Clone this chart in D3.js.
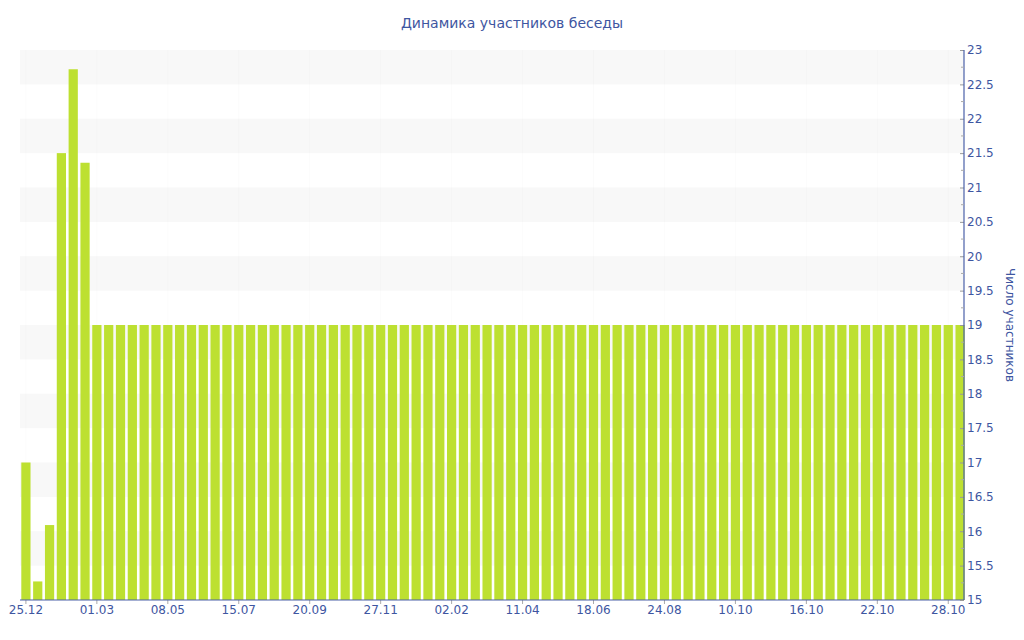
<!DOCTYPE html>
<html><head><meta charset="utf-8">
<script src="https://cdn.jsdelivr.net/npm/d3@7"></script>
<style>body{margin:0;background:#fff}svg{display:block}text{font-family:"DejaVu Sans",Verdana,sans-serif}</style>
</head><body><svg id="c" width="1024" height="640"></svg>
<script>
const title = "Динамика участников беседы";
const yTitle = "Число участников";
const tickLabels = ["25.12","01.03","08.05","15.07","20.09","27.11","02.02","11.04","18.06","24.08","10.10","16.10","22.10","28.10"];
const values = [17, 15.27, 16.09, 21.5, 22.72, 21.36,
  19,19,19,19,19,19,19,19,19,19,
  19,19,19,19,19,19,19,19,19,19,
  19,19,19,19,19,19,19,19,19,19,
  19,19,19,19,19,19,19,19,19,19,
  19,19,19,19,19,19,19,19,19,19,
  19,19,19,19,19,19,19,19,19,19,
  19,19,19,19,19,19,19,19,19,19,
  19,19,19,19];
const yTicks = d3.range(15, 23.01, 0.5);
const bandRanges = [[15.5,16],[16.5,17],[17.5,18],[18.5,19],[19.5,20],[20.5,21],[21.5,22],[22.5,23]];

const svg = d3.select("#c");
const mL = 20, mR = 964, mT = 50, mB = 600;
const x = d3.scaleBand().domain(d3.range(values.length)).range([mL, 966]).paddingInner(0.22).paddingOuter(0.11);
const y = d3.scaleLinear().domain([15, 23]).range([mB, mT]);
const textColor = "#3e56a1", axisColor = "#4a60a8";

svg.append("g").selectAll("rect").data(bandRanges).join("rect")
  .attr("x", mL).attr("width", mR - mL)
  .attr("y", d => y(d[1])).attr("height", d => y(d[0]) - y(d[1]))
  .attr("fill", "#f8f8f8");
const tickIdx = tickLabels.map((_, i) => i * 6);
svg.append("g").selectAll("line").data(tickIdx).join("line")
  .attr("x1", d => x(d) + x.bandwidth()/2).attr("x2", d => x(d) + x.bandwidth()/2)
  .attr("y1", mT).attr("y2", mB).attr("stroke", "#000").attr("stroke-opacity", 0.015);

svg.append("g").selectAll("rect").data(values).join("rect")
  .attr("x", (d, i) => x(i)).attr("width", x.bandwidth())
  .attr("y", d => y(d)).attr("height", d => mB - y(d))
  .attr("fill", "#bde031");

svg.append("text").attr("x", 512).attr("y", 28).attr("text-anchor", "middle")
  .attr("font-size", 14).attr("fill", textColor).text(title);

const xa = svg.append("g").attr("transform", `translate(0,${mB})`)
  .call(d3.axisBottom(x).tickValues(tickIdx).tickFormat(d => tickLabels[d / 6]).tickSize(4).tickSizeOuter(0));
xa.select(".domain").remove();
xa.append("line").attr("x1", mL).attr("x2", mR).attr("stroke", axisColor).attr("stroke-width", 1.2);
xa.selectAll(".tick line").attr("stroke", "#aaa");
xa.selectAll(".tick text").attr("fill", textColor).attr("font-size", 12).attr("font-family", "DejaVu Sans").attr("dy", "0.6em");

const ya = svg.append("g").attr("transform", `translate(${mR},0)`)
  .call(d3.axisRight(y).tickValues(yTicks).tickFormat(d3.format("~g")).tickSize(0));
ya.select(".domain").remove();
ya.append("line").attr("y1", mT).attr("y2", mB).attr("stroke", axisColor).attr("stroke-width", 1.2);
ya.selectAll(".tick text").attr("fill", textColor).attr("font-size", 12).attr("font-family", "DejaVu Sans").attr("x", 3);
ya.selectAll(".tick").append("line").attr("x1", -4).attr("x2", 0).attr("stroke", "#999");
const minor = d3.range(15.25, 23, 0.5);
ya.append("g").selectAll("line").data(minor).join("line")
  .attr("x1", -3).attr("x2", 0).attr("y1", d => y(d)).attr("y2", d => y(d)).attr("stroke", "#aaa");

svg.append("text").attr("transform", `translate(1006,325) rotate(90)`).attr("text-anchor", "middle")
  .attr("font-size", 12).attr("fill", textColor).text(yTitle);
</script></body></html>
